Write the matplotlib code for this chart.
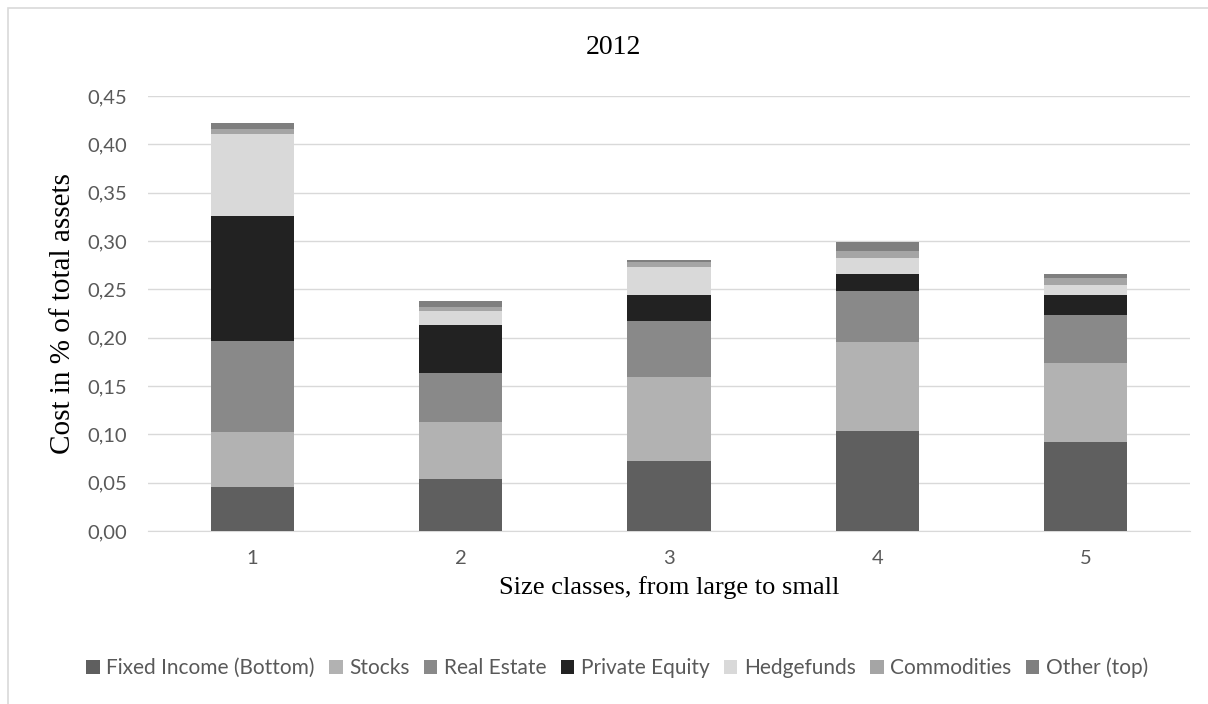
import matplotlib.pyplot as plt
import numpy as np
from matplotlib.patches import Rectangle
from matplotlib.ticker import FuncFormatter

# cost shares per size class, stacked from bottom to top
classes = ['1', '2', '3', '4', '5']
fixed_income = [0.046, 0.054, 0.072, 0.103, 0.092]
stocks = [0.056, 0.059, 0.087, 0.093, 0.082]
real_estate = [0.095, 0.050, 0.058, 0.052, 0.049]
private_equity = [0.129, 0.050, 0.027, 0.018, 0.021]
hedgefunds = [0.085, 0.015, 0.029, 0.016, 0.011]
commodities = [0.005, 0.004, 0.005, 0.008, 0.007]
other = [0.006, 0.006, 0.002, 0.009, 0.004]

series = [
    ('Fixed Income (Bottom)', fixed_income, '#5f5f5f'),
    ('Stocks', stocks, '#b2b2b2'),
    ('Real Estate', real_estate, '#898989'),
    ('Private Equity', private_equity, '#222222'),
    ('Hedgefunds', hedgefunds, '#d9d9d9'),
    ('Commodities', commodities, '#a5a5a5'),
    ('Other (top)', other, '#7f7f7f'),
]

W, H = 1208, 704
fig = plt.figure(figsize=(W / 100, H / 100), dpi=100)
# chart area frame, runs past the right and bottom edges
fig.add_artist(Rectangle((8 / W, -0.05), 1.2, 1 - 8 / H + 0.05, transform=fig.transFigure,
                         fill=False, edgecolor='#d9d9d9', linewidth=1.2))
ax = fig.add_axes([148 / W, 1 - 531 / H, 1042 / W, 435 / H])

x = np.arange(len(classes))
bottom = np.zeros(len(classes))
for name, vals, color in series:
    ax.bar(x, vals, 0.4, bottom=bottom, color=color, label=name, zorder=3)
    bottom += np.array(vals)

ax.set_xlim(-0.5, len(classes) - 0.5)
ax.set_ylim(0, 0.45)
ax.set_yticks(np.arange(0, 0.451, 0.05))
ax.yaxis.set_major_formatter(FuncFormatter(lambda v, _: f'{v:.2f}'.replace('.', ',')))
ax.set_xticks(x)
ax.set_xticklabels(classes)
ax.grid(axis='y', color='#d9d9d9', linewidth=1, zorder=0)
for s in ['top', 'right', 'left']:
    ax.spines[s].set_visible(False)
ax.spines['bottom'].set_color('#d9d9d9')
ax.tick_params(length=0, labelsize=14.5, labelcolor='#595959')
ax.tick_params(axis='y', pad=15)
ax.tick_params(axis='x', pad=14)
for lbl in ax.get_xticklabels() + ax.get_yticklabels():
    lbl.set_family('Lato')

fig.text(613 / W, 1 - 47 / H, '2012', family='Liberation Serif', fontsize=20,
         ha='center', va='center')
ax.set_ylabel('Cost in % of total assets', family='Liberation Serif', fontsize=21, labelpad=8)
ax.set_xlabel('Size classes, from large to small', family='Liberation Serif', fontsize=19, labelpad=6)

leg = fig.legend(loc='center', bbox_to_anchor=(617 / W, 1 - 668 / H), ncol=7, frameon=False,
                 handlelength=0.65, handleheight=0.65, handletextpad=0.3, columnspacing=0.7,
                 prop={'family': 'Lato', 'size': 15})
for t in leg.get_texts():
    t.set_color('#595959')

fig.savefig('out.png', dpi=100)
